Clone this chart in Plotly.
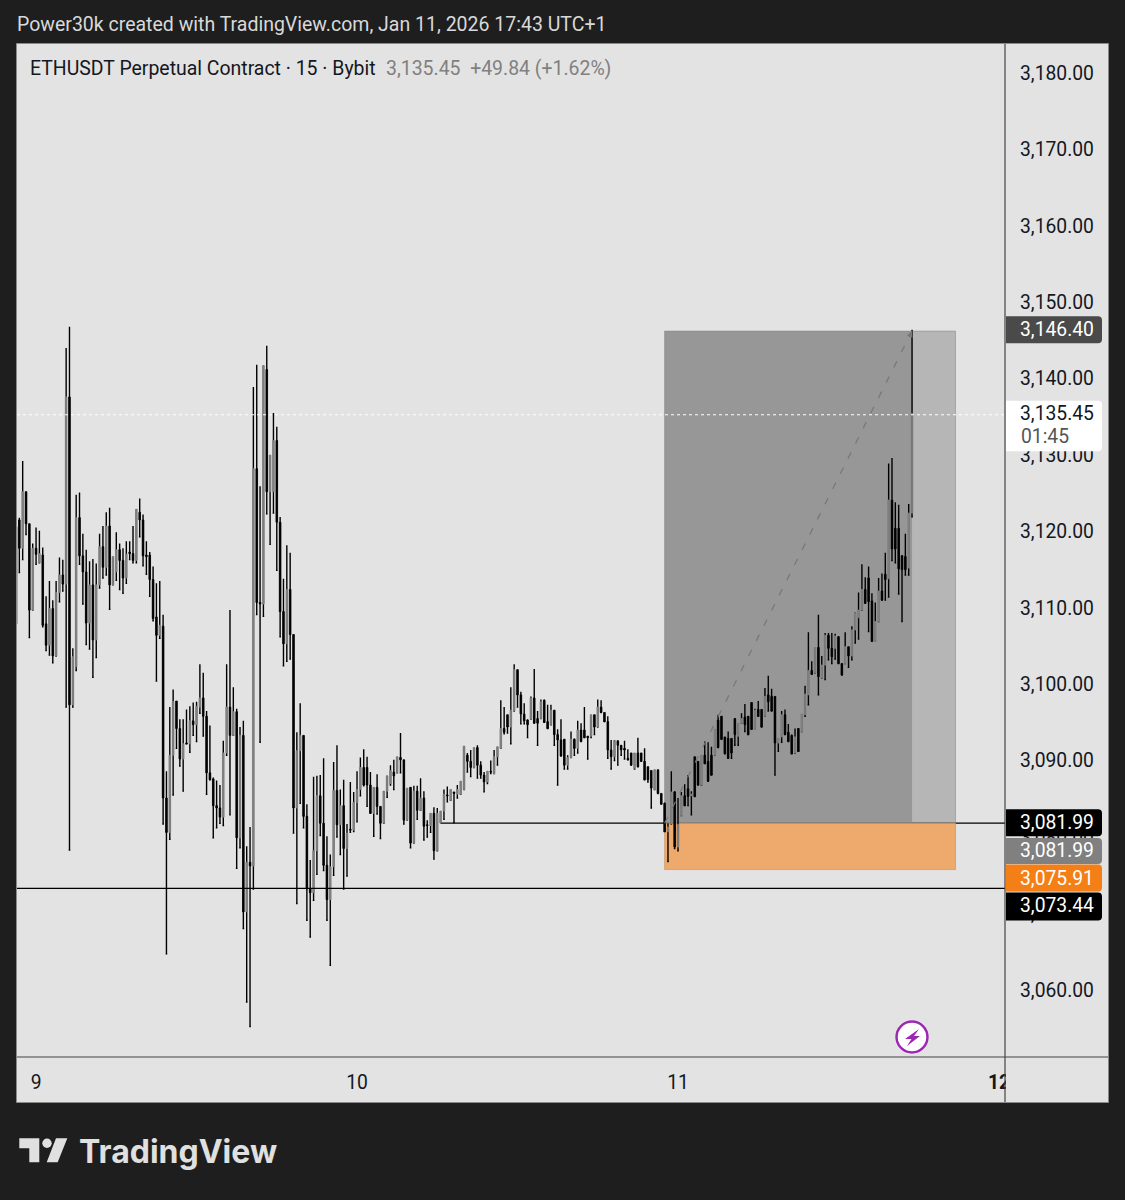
import pandas as pd
import plotly.graph_objects as go

# ETHUSDT 15m, bars (first bar 22:30 on Jan 8, last bar 17:30 on Jan 11)
opens = [
    3120.6, 3121.5, 3117.8, 3125.2, 3121.0, 3109.7, 3117.8, 3115.9, 3116.9, 3107.9,
    3105.1, 3109.9, 3103.7, 3112.0, 3114.3, 3113.1, 3137.6, 3097.3, 3102.3, 3121.8,
    3116.8, 3114.7, 3108.0, 3113.0, 3105.8, 3113.0, 3118.0, 3115.3, 3120.7, 3113.0,
    3114.7, 3117.6, 3116.2, 3113.9, 3117.3, 3117.1, 3116.2, 3122.5, 3121.5, 3116.9,
    3116.9, 3113.7, 3108.8, 3106.4, 3107.6, 3085.1, 3080.6, 3090.7, 3097.8, 3094.2,
    3090.2, 3092.3, 3092.2, 3095.2, 3094.7, 3097.0, 3098.2, 3095.8, 3088.4, 3087.6,
    3084.1, 3083.8, 3082.6, 3091.0, 3097.0, 3093.3, 3096.4, 3079.9, 3093.3, 3070.2,
    3076.7, 3076.2, 3128.2, 3110.7, 3110.5, 3141.2, 3125.2, 3125.2, 3131.9, 3121.2,
    3109.5, 3105.3, 3112.4, 3106.5, 3083.8, 3091.3, 3093.3, 3082.7, 3073.2, 3072.7,
    3078.2, 3085.4, 3081.8, 3076.3, 3071.8, 3076.1, 3086.1, 3081.6, 3084.1, 3078.5,
    3081.0, 3080.9, 3084.5, 3086.2, 3089.1, 3089.1, 3086.8, 3083.1, 3086.5, 3084.0,
    3081.8, 3086.0, 3087.0, 3088.5, 3088.4, 3090.4, 3090.1, 3082.2, 3086.5, 3079.2,
    3086.0, 3083.5, 3085.1, 3081.6, 3081.5, 3083.1, 3078.2, 3081.9, 3083.4, 3085.5,
    3084.8, 3085.9, 3085.6, 3085.6, 3086.2, 3090.7, 3089.9, 3089.1, 3091.7, 3089.4,
    3088.1, 3087.2, 3088.6, 3088.3, 3090.5, 3091.6, 3094.2, 3096.0, 3094.4, 3096.5,
    3101.9, 3098.6, 3096.1, 3095.3, 3095.4, 3098.2, 3095.5, 3095.5, 3097.9, 3095.1,
    3094.7, 3096.6, 3093.4, 3092.7, 3092.8, 3089.4, 3090.4, 3092.8, 3091.6, 3094.0,
    3094.0, 3093.2, 3093.2, 3096.0, 3094.4, 3097.0, 3096.3, 3095.1, 3091.4, 3090.5,
    3092.6, 3092.0, 3091.6, 3090.3, 3091.0, 3089.0, 3091.0, 3091.0, 3089.9, 3089.2,
    3088.7, 3086.2, 3088.8, 3085.7, 3084.4, 3080.7, 3081.7, 3085.9, 3078.7, 3082.8,
    3085.4, 3086.3, 3085.4, 3090.5, 3089.9, 3086.8, 3090.7, 3089.9, 3090.7, 3090.7,
    3095.3, 3095.8, 3093.1, 3092.9, 3092.9, 3095.5, 3093.2, 3094.9, 3095.7, 3095.8,
    3097.6, 3094.2, 3096.7, 3096.7, 3095.8, 3098.6, 3098.4, 3098.4, 3092.3, 3093.1,
    3096.0, 3093.7, 3093.3, 3091.0, 3094.2, 3093.8, 3096.0, 3098.6, 3101.8, 3101.5,
    3104.8, 3100.8, 3102.5, 3106.4, 3104.7, 3104.7, 3106.2, 3102.7, 3102.7, 3104.9,
    3103.7, 3107.1, 3108.7, 3109.7, 3112.4, 3113.9, 3110.9, 3105.7, 3108.2, 3112.2,
    3114.4, 3113.8, 3124.1, 3120.4, 3120.4, 3116.8, 3116.7, 3115.2, 3122.4,
]
highs = [
    3120.6, 3121.8, 3129.2, 3125.2, 3121.0, 3118.4, 3120.5, 3120.1, 3117.9, 3111.5,
    3113.5, 3111.0, 3113.5, 3116.6, 3116.3, 3144.0, 3146.8, 3104.7, 3124.8, 3125.1,
    3119.7, 3117.6, 3116.1, 3116.4, 3115.8, 3119.7, 3120.7, 3122.5, 3123.1, 3116.7,
    3119.9, 3118.4, 3117.8, 3118.7, 3118.7, 3120.7, 3122.9, 3124.3, 3122.2, 3118.7,
    3117.3, 3115.4, 3113.2, 3113.5, 3109.1, 3088.6, 3097.0, 3099.3, 3097.8, 3095.4,
    3095.4, 3096.7, 3097.1, 3097.6, 3097.7, 3102.6, 3101.5, 3096.5, 3094.6, 3087.8,
    3087.4, 3086.8, 3092.6, 3102.6, 3109.7, 3099.6, 3096.8, 3094.4, 3095.2, 3078.8,
    3081.3, 3138.9, 3141.8, 3125.9, 3141.7, 3144.3, 3130.0, 3135.5, 3133.7, 3121.9,
    3113.8, 3118.2, 3117.2, 3106.5, 3093.7, 3097.5, 3093.3, 3084.3, 3077.0, 3087.9,
    3088.0, 3088.1, 3090.3, 3080.1, 3077.7, 3089.8, 3092.0, 3086.2, 3087.5, 3081.7,
    3087.2, 3085.9, 3088.6, 3090.4, 3091.5, 3090.5, 3088.5, 3086.5, 3088.2, 3084.0,
    3086.0, 3088.0, 3089.4, 3090.1, 3090.5, 3093.6, 3090.1, 3086.4, 3086.5, 3086.7,
    3086.7, 3087.7, 3086.0, 3082.2, 3083.1, 3083.9, 3083.8, 3083.4, 3086.2, 3086.6,
    3086.2, 3085.9, 3086.8, 3087.3, 3091.9, 3091.0, 3091.4, 3091.7, 3092.0, 3089.9,
    3088.5, 3088.6, 3090.0, 3091.4, 3091.8, 3097.9, 3097.0, 3096.0, 3099.6, 3102.6,
    3101.9, 3099.0, 3097.5, 3095.4, 3098.4, 3102.0, 3096.5, 3098.0, 3098.0, 3097.3,
    3097.3, 3096.6, 3094.1, 3095.4, 3092.8, 3090.7, 3093.8, 3092.9, 3095.2, 3094.9,
    3097.0, 3093.2, 3096.0, 3096.0, 3098.0, 3097.9, 3096.3, 3095.8, 3092.7, 3092.7,
    3092.6, 3092.0, 3092.6, 3091.5, 3091.0, 3091.0, 3093.0, 3091.0, 3091.6, 3089.2,
    3088.7, 3088.8, 3088.8, 3085.7, 3084.5, 3081.8, 3088.6, 3086.0, 3085.1, 3085.9,
    3086.9, 3088.1, 3086.0, 3090.5, 3089.9, 3090.7, 3092.5, 3092.4, 3091.8, 3094.1,
    3096.0, 3095.8, 3093.1, 3093.8, 3092.9, 3095.5, 3094.9, 3096.2, 3097.4, 3095.8,
    3097.6, 3096.8, 3097.8, 3096.7, 3099.5, 3101.1, 3099.4, 3098.4, 3092.9, 3096.5,
    3096.7, 3094.8, 3093.4, 3094.2, 3094.2, 3096.1, 3099.8, 3106.8, 3103.0, 3104.8,
    3109.1, 3103.7, 3106.7, 3106.7, 3106.7, 3106.6, 3106.3, 3102.7, 3106.8, 3104.9,
    3107.6, 3109.4, 3112.0, 3115.7, 3114.0, 3115.4, 3111.9, 3110.7, 3113.9, 3114.5,
    3117.2, 3128.9, 3129.6, 3123.8, 3123.5, 3116.9, 3119.7, 3123.6, 3146.4,
]
lows = [
    3105.8, 3114.6, 3116.3, 3119.6, 3106.1, 3109.7, 3115.7, 3115.9, 3107.5, 3104.4,
    3103.8, 3102.8, 3103.7, 3110.8, 3112.2, 3097.0, 3078.3, 3097.0, 3101.8, 3115.7,
    3110.5, 3105.2, 3104.6, 3100.9, 3103.5, 3112.6, 3113.9, 3114.3, 3109.8, 3113.0,
    3113.6, 3112.4, 3111.9, 3113.2, 3116.3, 3115.9, 3115.9, 3119.3, 3115.5, 3114.4,
    3111.5, 3108.3, 3100.4, 3106.0, 3081.7, 3064.7, 3079.7, 3085.5, 3091.6, 3089.3,
    3086.0, 3092.2, 3091.1, 3093.3, 3092.5, 3096.2, 3093.2, 3085.6, 3087.5, 3079.9,
    3081.2, 3081.8, 3081.5, 3090.7, 3082.9, 3093.3, 3075.9, 3078.6, 3068.0, 3058.4,
    3055.2, 3073.2, 3109.1, 3092.4, 3108.9, 3122.3, 3118.3, 3122.4, 3114.9, 3106.2,
    3102.4, 3103.0, 3103.3, 3080.5, 3071.3, 3084.4, 3081.2, 3069.1, 3066.9, 3071.7,
    3075.1, 3080.2, 3075.6, 3069.1, 3063.2, 3075.0, 3080.0, 3077.7, 3073.2, 3074.9,
    3080.6, 3080.7, 3082.0, 3085.4, 3086.7, 3084.0, 3083.1, 3080.1, 3083.0, 3079.8,
    3081.8, 3085.2, 3086.8, 3086.2, 3088.4, 3088.4, 3081.7, 3082.2, 3078.6, 3079.2,
    3082.3, 3083.5, 3079.6, 3080.0, 3080.6, 3077.1, 3078.2, 3081.9, 3082.3, 3084.6,
    3084.8, 3081.9, 3085.1, 3085.6, 3086.2, 3088.5, 3087.9, 3089.1, 3087.7, 3087.7,
    3085.9, 3087.0, 3088.3, 3088.3, 3089.4, 3091.6, 3093.5, 3093.6, 3092.2, 3096.5,
    3097.0, 3094.8, 3094.8, 3093.0, 3095.4, 3094.9, 3092.0, 3095.5, 3095.0, 3094.2,
    3094.7, 3092.0, 3086.8, 3090.6, 3088.9, 3088.9, 3090.4, 3090.7, 3091.0, 3092.5,
    3093.0, 3090.2, 3093.0, 3093.4, 3094.4, 3096.3, 3095.1, 3090.3, 3088.9, 3090.0,
    3089.4, 3090.7, 3090.2, 3090.1, 3089.4, 3088.9, 3089.2, 3089.9, 3087.5, 3087.2,
    3083.8, 3086.2, 3085.7, 3084.3, 3080.7, 3076.8, 3081.7, 3078.5, 3078.2, 3082.8,
    3084.1, 3084.1, 3082.9, 3085.3, 3086.8, 3086.8, 3089.6, 3087.3, 3088.1, 3090.7,
    3091.7, 3092.8, 3090.9, 3090.3, 3090.3, 3092.0, 3092.0, 3094.9, 3093.8, 3093.4,
    3094.1, 3094.2, 3095.8, 3094.4, 3095.8, 3096.5, 3096.5, 3088.1, 3091.2, 3092.4,
    3093.4, 3092.5, 3090.9, 3091.0, 3091.2, 3093.8, 3095.8, 3097.3, 3101.3, 3101.5,
    3098.6, 3100.8, 3100.6, 3103.2, 3102.7, 3103.3, 3102.7, 3101.2, 3102.7, 3102.2,
    3103.2, 3105.4, 3105.9, 3109.7, 3110.6, 3106.9, 3105.6, 3105.7, 3108.2, 3111.0,
    3111.0, 3111.4, 3116.2, 3115.9, 3111.8, 3108.2, 3114.3, 3114.3, 3121.9,
]
closes = [
    3107.9, 3117.8, 3125.2, 3121.0, 3109.7, 3117.8, 3117.0, 3117.1, 3107.7, 3105.1,
    3109.9, 3103.7, 3112.0, 3114.3, 3113.1, 3137.6, 3097.3, 3103.6, 3121.8, 3116.8,
    3114.7, 3108.0, 3113.0, 3105.8, 3113.0, 3118.0, 3115.3, 3120.7, 3113.0, 3116.7,
    3117.6, 3116.2, 3113.9, 3117.0, 3117.1, 3116.2, 3122.9, 3121.5, 3116.8, 3116.7,
    3113.7, 3108.6, 3106.4, 3107.7, 3085.1, 3080.6, 3090.7, 3097.7, 3094.2, 3090.2,
    3092.2, 3092.2, 3095.2, 3094.7, 3097.1, 3098.2, 3095.8, 3088.4, 3087.5, 3084.1,
    3083.8, 3082.6, 3091.0, 3097.0, 3093.3, 3096.4, 3079.9, 3093.3, 3070.2, 3076.7,
    3076.2, 3128.2, 3110.7, 3110.5, 3141.7, 3125.2, 3130.0, 3131.9, 3121.2, 3109.5,
    3105.3, 3112.4, 3106.5, 3083.8, 3091.3, 3093.3, 3082.7, 3073.2, 3072.7, 3078.2,
    3085.4, 3081.8, 3076.3, 3071.8, 3076.1, 3086.1, 3081.6, 3084.1, 3078.5, 3080.5,
    3080.9, 3084.5, 3086.2, 3089.1, 3086.8, 3086.8, 3083.1, 3086.5, 3084.0, 3081.8,
    3086.0, 3088.0, 3088.7, 3088.0, 3090.5, 3090.1, 3082.2, 3086.4, 3079.2, 3086.0,
    3083.5, 3085.1, 3081.4, 3081.5, 3083.1, 3078.2, 3083.1, 3083.4, 3085.6, 3085.4,
    3086.2, 3085.7, 3086.2, 3087.3, 3091.9, 3089.9, 3089.1, 3091.7, 3089.4, 3088.1,
    3087.2, 3088.6, 3088.5, 3090.5, 3091.8, 3094.2, 3093.7, 3094.4, 3096.6, 3101.9,
    3098.6, 3096.1, 3095.2, 3094.7, 3098.2, 3094.9, 3094.9, 3097.7, 3095.0, 3094.2,
    3096.6, 3093.4, 3092.7, 3090.6, 3089.4, 3090.4, 3092.8, 3091.6, 3094.0, 3092.5,
    3093.0, 3093.0, 3096.0, 3094.4, 3097.0, 3096.3, 3095.1, 3091.4, 3090.5, 3092.6,
    3092.0, 3091.4, 3091.4, 3090.1, 3089.4, 3091.0, 3089.2, 3089.9, 3087.5, 3087.5,
    3086.4, 3088.8, 3085.7, 3084.3, 3080.7, 3081.3, 3085.9, 3078.7, 3081.6, 3085.4,
    3084.1, 3085.3, 3085.6, 3085.3, 3086.8, 3090.7, 3089.6, 3087.3, 3088.1, 3094.1,
    3091.7, 3092.8, 3090.9, 3090.3, 3091.0, 3093.4, 3094.9, 3095.5, 3094.7, 3093.4,
    3094.1, 3096.6, 3095.8, 3094.4, 3098.4, 3097.7, 3096.5, 3092.3, 3092.9, 3096.0,
    3093.4, 3092.5, 3090.9, 3093.1, 3091.2, 3096.1, 3098.7, 3101.8, 3101.3, 3104.8,
    3101.0, 3102.5, 3106.4, 3104.7, 3103.6, 3106.3, 3102.7, 3101.2, 3104.9, 3103.7,
    3107.1, 3109.3, 3109.7, 3112.4, 3110.6, 3110.8, 3105.6, 3108.2, 3112.2, 3111.0,
    3113.7, 3124.1, 3117.7, 3117.7, 3115.1, 3115.0, 3115.0, 3122.4, 3135.45,
]
times = pd.date_range("2026-01-08 22:30", periods=len(opens), freq="15min")

day_ticks = ["2026-01-09", "2026-01-10", "2026-01-11", "2026-01-12"]
day_labels = ["9", "10", "11", "<b>12</b>"]
price_ticks = [3060, 3070, 3080, 3090, 3100, 3110, 3120, 3130, 3140, 3150, 3160, 3170, 3180]
x_range = ["2026-01-08 22:34:30", "2026-01-12 00:27:00"]
y_range = [3051.2, 3183.8]

# the long position drawing and the levels, as drawn on the scale
entry_price = 3081.81
target_price = 3146.22
stop_price = 3075.73
last_line = 3135.27
support_price = 3073.26
level_start = "2026-01-10 06:15"
pos_start = "2026-01-10 23:00"
last_bar = "2026-01-11 17:30"
pos_end = "2026-01-11 20:45"

# plot area in page pixels
L, R, T, B = 17, 1005, 44, 1057
BG = "#e3e3e3"
DARK = "#1e1e1e"
FONT = "Roboto"
SCALE_SIZE = 19.3


def px(x):
    return (x - L) / (R - L)


def py(y):
    return (B - y) / (B - T)


def tag_path(top, bottom, x0=1, x1=97, r=4):
    # square on the axis side, round on the right
    return (f"M {x0},{top} L {x1 - r},{top} Q {x1},{top} {x1},{top - r} "
            f"L {x1},{bottom + r} Q {x1},{bottom} {x1 - r},{bottom} L {x0},{bottom} Z")


def page_text(x, y, text, size, color, xanchor="left", family=FONT):
    fig.add_annotation(xref="paper", yref="paper", xanchor=xanchor, yanchor="middle", x=px(x), y=py(y),
                       text=text, showarrow=False, font=dict(family=family, size=size, color=color))


def price_text(x, level, text, color, yshift=0):
    fig.add_annotation(xref="paper", yref="y", xanchor="center", yanchor="middle", x=px(x), y=level, yshift=yshift,
                       text=text, showarrow=False, font=dict(family=FONT, size=SCALE_SIZE, color=color))


fig = go.Figure()

# wicks and bodies are two traces so a grey body keeps its black wick
fig.add_trace(go.Candlestick(
    x=times, open=lows, close=lows, high=highs, low=lows,
    increasing=dict(line=dict(color="#000000", width=1.4)),
    decreasing=dict(line=dict(color="#000000", width=1.4)),
    showlegend=False, hoverinfo="skip",
))
body_tops = [max(o, c) for o, c in zip(opens, closes)]
body_bottoms = [min(o, c) for o, c in zip(opens, closes)]
fig.add_trace(go.Candlestick(
    x=times, open=opens, close=closes, high=body_tops, low=body_bottoms,
    increasing=dict(line=dict(color="#808080", width=0.8), fillcolor="#808080"),
    decreasing=dict(line=dict(color="#000000", width=0.8), fillcolor="#000000"),
    showlegend=False, hoverinfo="skip",
))

# panel behind plot and price scale
fig.add_shape(type="rect", xref="paper", yref="paper", layer="below",
              x0=px(16.5), x1=px(1108.5), y0=py(1102.5), y1=py(43.5),
              fillcolor=BG, line=dict(color="#8a8a8a", width=1))

# entry level runs under the position box
fig.add_shape(type="line", xref="x", yref="y", layer="below",
              x0=level_start, x1=x_range[1], y0=entry_price, y1=entry_price,
              line=dict(color="#000000", width=1.3))
fig.add_shape(type="rect", xref="x", yref="y", layer="below",
              x0=pos_start, x1=pos_end, y0=entry_price, y1=target_price,
              fillcolor="rgba(128,128,128,0.46)", line=dict(color="rgba(128,128,128,0.5)", width=1))
fig.add_shape(type="rect", xref="x", yref="y", layer="below",
              x0=pos_start, x1=last_bar, y0=entry_price, y1=target_price,
              fillcolor="rgba(128,128,128,0.57)", line=dict(width=0))
fig.add_shape(type="rect", xref="x", yref="y", layer="below",
              x0=pos_start, x1=pos_end, y0=stop_price, y1=entry_price,
              fillcolor="#eeaa6c", line=dict(color="rgba(200,140,90,0.6)", width=1))
fig.add_shape(type="line", xref="x", yref="y", layer="above",
              x0=pos_start, x1=last_bar, y0=entry_price, y1=target_price,
              line=dict(color="#777777", width=1.2, dash="7px,10px"))
fig.add_annotation(x=last_bar, y=target_price, text="", showarrow=True, arrowhead=2, arrowsize=1.2,
                   arrowwidth=1, arrowcolor="#777777", ax=-3, ay=7)

fig.add_shape(type="line", xref="x", yref="y", layer="above",
              x0=x_range[0], x1=x_range[1], y0=support_price, y1=support_price,
              line=dict(color="#000000", width=1.3))
fig.add_shape(type="line", xref="x", yref="y", layer="above",
              x0=x_range[0], x1=x_range[1], y0=last_line, y1=last_line,
              line=dict(color="#ffffff", width=1, dash="dot"))

# hide the part of "12" that runs under the price scale, then draw the scale lines
fig.add_shape(type="rect", xref="paper", yref="paper", layer="above",
              x0=px(1006), x1=px(1108), y0=py(1102), y1=py(1058), fillcolor=BG, line=dict(width=0))
fig.add_shape(type="line", xref="paper", yref="paper", layer="above",
              x0=1, x1=1, y0=py(1102), y1=py(44), line=dict(color="#444444", width=1.2))
fig.add_shape(type="line", xref="paper", yref="paper", layer="above",
              x0=0, x1=px(1108), y0=0, y1=0, line=dict(color="#444444", width=1.2))

# price tags on the scale
tags = [
    (3146.40, 13.5, -13.5, "#4a4a4a", "3,146.40", "#ffffff"),
    (3081.85, 13.5, -13.5, "#000000", "3,081.99", "#ffffff"),
    (3078.17, 13, -13, "#808080", "3,081.99", "#ffffff"),
    (3074.63, 13.5, -13.5, "#f57f17", "3,075.91", "#ffffff"),
    (3070.97, 13.5, -14.5, "#000000", "3,073.44", "#ffffff"),
]
fig.add_shape(type="path", xref="paper", yref="y", layer="above", xsizemode="pixel", ysizemode="pixel",
              xanchor=1, yanchor=3135.45, path=tag_path(12.5, -38), fillcolor="#ffffff", line=dict(width=0))
price_text(1057, 3135.45, "3,135.45", "#131722")
price_text(1045, 3135.45, "01:45", "#555555", yshift=-23)
for level, top, bottom, color, label, text_color in tags:
    fig.add_shape(type="path", xref="paper", yref="y", layer="above", xsizemode="pixel", ysizemode="pixel",
                  xanchor=1, yanchor=level, path=tag_path(top, bottom), fillcolor=color, line=dict(width=0))
    price_text(1057, level, label, text_color)

# header and legend
page_text(15, 25, "Power30k created with TradingView.com, Jan 11, 2026 17:43 UTC+1", 19.5, "#d9d9d9")
page_text(27.5, 68.5, "ETHUSDT Perpetual Contract · 15 · Bybit", 19.45, "#131722")
page_text(383.5, 68.5, "3,135.45  +49.84 (+1.62%)", 19.45, "#808080")

# lightning badge
fig.add_shape(type="circle", xref="paper", yref="paper", layer="above",
              x0=px(895), x1=px(929), y0=py(1054), y1=py(1020), fillcolor="#ffffff", line=dict(width=0))
fig.add_shape(type="circle", xref="paper", yref="paper", layer="above",
              x0=px(896.5), x1=px(927.5), y0=py(1052.5), y1=py(1021.5), fillcolor="#ffffff",
              line=dict(color="#9c27b0", width=2.5))
bolt = [(919, 1029), (905, 1039), (911.5, 1039), (907, 1046), (920, 1036), (914, 1036)]
fig.add_shape(type="path", xref="paper", yref="paper", layer="above", fillcolor="#9c27b0", line=dict(width=0),
              path="M " + " L ".join(f"{px(a)},{py(b)}" for a, b in bolt) + " Z")

# TradingView logo
logo_t = [(19.3, 1138.3), (39.3, 1138.3), (39.3, 1162.3), (29.3, 1162.3), (29.3, 1148.3), (19.3, 1148.3)]
logo_slash = [(56, 1138.3), (67.3, 1138.3), (57.7, 1162.3), (46.7, 1162.3)]
for pts in (logo_t, logo_slash):
    fig.add_shape(type="path", xref="paper", yref="paper", layer="above", fillcolor="#e0e0e0", line=dict(width=0),
                  path="M " + " L ".join(f"{px(a)},{py(b)}" for a, b in pts) + " Z")
fig.add_shape(type="circle", xref="paper", yref="paper", layer="above", fillcolor="#e0e0e0", line=dict(width=0),
              x0=px(42.3), x1=px(51.7), y0=py(1148), y1=py(1138.6))
page_text(76.5, 1151, "<b>TradingView</b>", 32, "#e0e0e0", family="Inter")

fig.update_layout(
    width=1125, height=1200,
    margin=dict(l=L, r=1125 - R, t=T, b=1200 - B),
    paper_bgcolor=DARK, plot_bgcolor=BG,
    showlegend=False,
    font=dict(family=FONT, color="#131722"),
)
fig.update_xaxes(
    type="date", range=x_range, rangeslider_visible=False, showgrid=False, zeroline=False, showline=False,
    tickmode="array", tickvals=day_ticks, ticktext=day_labels, ticks="", ticklabelstandoff=12,
    tickfont=dict(family=FONT, size=SCALE_SIZE, color="#131722"),
)
fig.update_yaxes(
    side="right", range=y_range, showgrid=False, zeroline=False, showline=False,
    tickmode="array", tickvals=price_ticks, tickformat=",.2f", ticks="", ticklabelstandoff=14,
    tickfont=dict(family=FONT, size=SCALE_SIZE, color="#131722"),
)

# the page has a default body margin, drop it so the figure fills the window
fig.write_html("out.html", config={"displayModeBar": False}, post_script="document.body.style.margin='0';")
